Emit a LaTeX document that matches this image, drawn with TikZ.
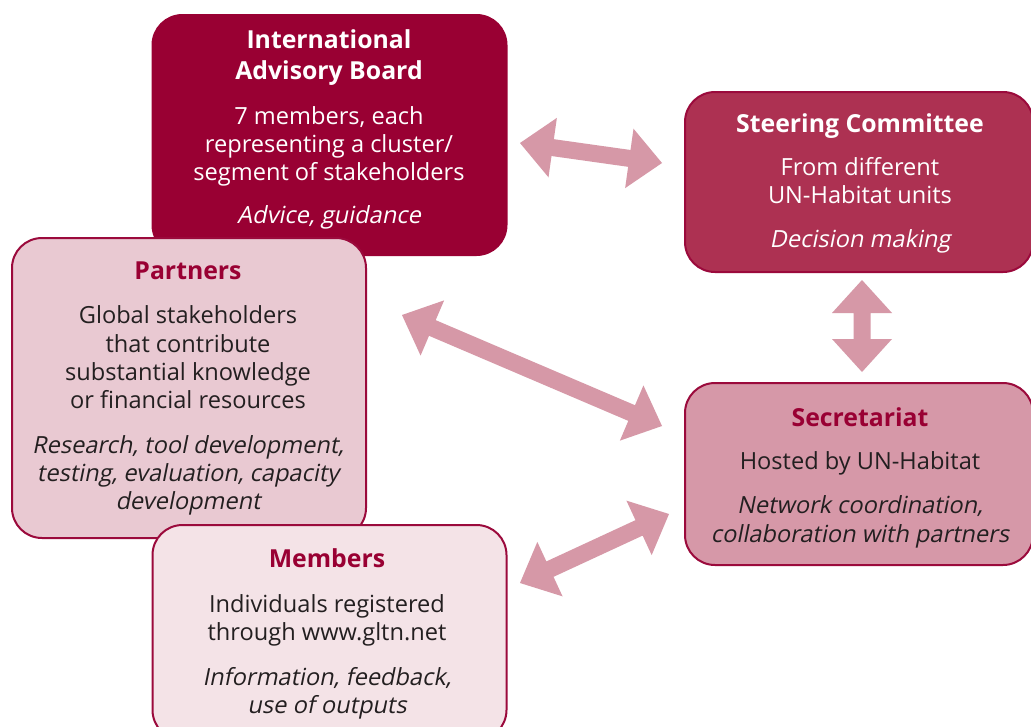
\documentclass[tikz,border=0pt]{standalone}
\usepackage{fontspec}
\setmainfont{Open Sans}
\newfontfamily\obliqfont[FakeSlant=0.2]{Open Sans}
\usetikzlibrary{calc}
\definecolor{crimson}{RGB}{153,0,51}
\definecolor{crimsonline}{RGB}{155,10,60}
\definecolor{steerfill}{RGB}{173,49,82}
\definecolor{secfill}{RGB}{214,152,168}
\definecolor{partfill}{RGB}{233,201,210}
\definecolor{membfill}{RGB}{244,227,231}
\definecolor{arrowpink}{RGB}{214,152,167}
\definecolor{ink}{RGB}{35,31,32}
\tikzset{
  orgbox/.style={rounded corners=30pt, draw=crimsonline, line width=2pt, inner sep=0pt, outer sep=0pt},
  hd/.style={anchor=base, inner sep=0pt, font=\fontsize{24.8}{30}\selectfont\bfseries},
  bd/.style={anchor=base, inner sep=0pt, text=ink, font=\fontsize{23.6}{28}\selectfont},
  it/.style={anchor=base, inner sep=0pt, text=ink, font=\obliqfont\fontsize{23.6}{28}\selectfont},
  fatarrow/.style={fill=arrowpink}
}
\newcommand\gltnarrow[2]{%
  \fill[fatarrow] (#1)
   -- ($(#1)!33pt!(#2)!30pt!90:(#2)$)
   -- ($(#1)!33pt!(#2)!8.5pt!90:(#2)$)
   -- ($(#2)!33pt!(#1)!8.5pt!-90:(#1)$)
   -- ($(#2)!33pt!(#1)!30pt!-90:(#1)$)
   -- (#2)
   -- ($(#2)!33pt!(#1)!30pt!90:(#1)$)
   -- ($(#2)!33pt!(#1)!8.5pt!90:(#1)$)
   -- ($(#1)!33pt!(#2)!8.5pt!-90:(#2)$)
   -- ($(#1)!33pt!(#2)!30pt!-90:(#2)$)
   -- cycle;}
\begin{document}
\begin{tikzpicture}[x=1pt,y=-1pt]
\useasboundingbox (0,0) rectangle (1031,726);
\clip (0,0) rectangle (1031,726);
\fill[white] (0,0) rectangle (1031,726);

% boxes
\node[orgbox, draw=crimson, fill=crimson, minimum width=354pt, minimum height=240pt] (iab) at (329.5,135) {};
\node[orgbox, fill=steerfill, minimum width=348pt, minimum height=180pt] (sc) at (859,182) {};
\node[orgbox, fill=partfill, minimum width=354pt, minimum height=300pt] (par) at (189,388) {};
\node[orgbox, fill=membfill, minimum width=354pt, minimum height=215pt] (mem) at (329.5,632.5) {};
\node[orgbox, fill=secfill, minimum width=348pt, minimum height=182pt] (sec) at (859,474) {};

% International Advisory Board
\node[hd, text=white] (iab1) at (329,48) {International};
\node[hd, text=white] (iab2) at (329,79) {Advisory Board};
\node[bd, text=white] (iab3) at (329,124) {7 members, each};
\node[bd, text=white] (iab4) at (329,152) {representing a cluster/};
\node[bd, text=white] (iab5) at (329,180) {segment of stakeholders};
\node[it, text=white] (iab6) at (329,223) {Advice, guidance};

% Steering Committee
\node[hd, text=white] (sc1) at (860,132) {Steering Committee};
\node[bd, text=white] (sc2) at (860,175) {From different};
\node[bd, text=white] (sc3) at (860,203) {UN-Habitat units};
\node[it, text=white] (sc4) at (860,247) {Decision making};

% Partners
\node[hd, text=crimson] (par1) at (188,279) {Partners};
\node[bd] (par2) at (188,323) {Global stakeholders};
\node[bd] (par3) at (188,352) {that contribute};
\node[bd] (par4) at (188,380) {substantial knowledge};
\node[bd] (par5) at (188,408) {or financial resources};
\node[it] (par6) at (188,453) {Research, tool development,};
\node[it] (par7) at (188,481) {testing, evaluation, capacity};
\node[it] (par8) at (188,509) {development};

% Secretariat
\node[hd, text=crimson] (sec1) at (860,426) {Secretariat};
\node[bd] (sec2) at (860,469) {Hosted by UN-Habitat};
\node[it] (sec3) at (860,513) {Network coordination,};
\node[it] (sec4) at (860,542) {collaboration with partners};

% Members
\node[hd, text=crimson] (mem1) at (327,567) {Members};
\node[bd] (mem2) at (327,612) {Individuals registered};
\node[bd] (mem3) at (327,640) {through www.gltn.net};
\node[it] (mem4) at (327,685) {Information, feedback,};
\node[it] (mem5) at (327,713) {use of outputs};

% arrow end points
\coordinate (a1s) at (520,143);
\coordinate (a1e) at (662,163);
\coordinate (a2s) at (402,315);
\coordinate (a2e) at (662,426);
\coordinate (a3s) at (862,280);
\coordinate (a3e) at (862,372);
\coordinate (a4s) at (520,583);
\coordinate (a4e) at (669,514);

\gltnarrow{a1s}{a1e}
\gltnarrow{a2s}{a2e}
\gltnarrow{a3s}{a3e}
\gltnarrow{a4s}{a4e}
\end{tikzpicture}
\end{document}
